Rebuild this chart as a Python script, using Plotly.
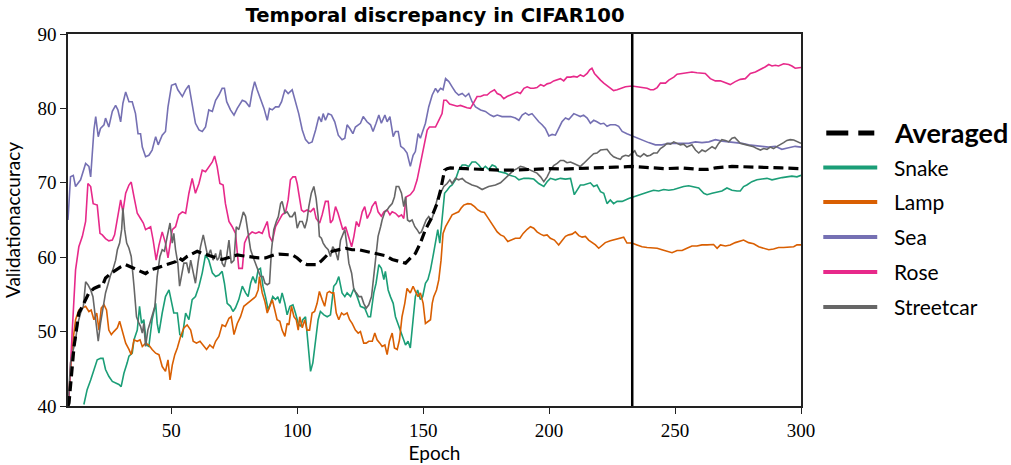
import plotly.graph_objects as go

# ---------------- data (epoch, validation accuracy) ----------------
averaged = [(9.0,40.0),(9.4,40.4),(11.4,48.0),(13.3,52.5),(14.7,53.4),(16.0,54.3),(17.3,55.2),(19.3,55.8),(21.3,56.1),(22.6,56.1),(23.9,57.2),(25.9,57.8),(27.9,58.3),(29.9,58.7),(31.9,59.0),(33.8,58.7),(35.8,58.3),(37.8,58.1),(39.8,57.8),(41.8,58.3),(43.8,58.5),(45.8,58.7),(47.7,59.0),(49.7,59.2),(51.7,59.4),(53.0,59.9),(54.4,59.6),(56.3,60.1),(58.3,60.5),(60.3,60.8),(62.3,60.5),(64.3,60.3),(66.3,60.1),(68.2,59.9),(70.2,59.7),(72.2,59.9),(74.2,60.1),(76.2,60.3),(78.2,60.2),(80.1,60.1),(82.1,60.1),(84.8,59.9),(87.4,59.9),(88.7,60.1),(90.7,60.3),(92.7,60.4),(95.4,60.3),(98.0,60.3),(100.0,59.9),(102.0,59.3),(103.9,59.0),(105.9,59.0),(107.9,59.0),(109.9,59.6),(111.9,60.3),(113.9,60.8),(116.5,61.0),(119.2,61.2),(121.8,61.0),(124.5,61.0),(127.1,60.8),(129.8,60.6),(132.4,60.5),(135.1,60.2),(137.7,59.7),(140.4,59.4),(143.0,59.2),(145.0,59.9),(146.9,60.5),(148.9,61.9),(150.9,63.7),(152.9,65.0),(154.2,66.0),(155.5,67.2),(156.9,69.0),(158.5,71.7),(159.5,71.9),(160.8,72.0),(167.0,71.9),(173.0,71.8),(180.0,71.7),(186.0,71.7),(193.0,71.8),(200.0,71.9),(206.0,71.85),(213.0,71.9),(219.0,72.0),(226.3,72.1),(232.9,72.2),(239.5,72.1),(246.2,71.9),(252.8,72.0),(259.4,71.8),(263.0,71.8),(266.0,72.0),(272.6,72.2),(279.2,72.1),(285.8,72.0),(292.4,72.0),(300.0,71.9)]

snake = [(15.3,40.2),(16.6,42.2),(18.0,43.5),(19.3,44.9),(20.6,46.2),(21.9,46.4),(22.9,46.4),(23.9,44.9),(25.2,44.0),(26.6,43.3),(27.9,43.1),(29.2,42.9),(30.1,42.6),(31.2,44.4),(32.5,45.8),(33.2,46.7),(34.5,47.1),(35.2,48.9),(36.5,50.2),(37.4,53.4),(38.2,51.1),(39.1,51.6),(40.2,48.2),(41.1,48.0),(42.4,51.6),(43.8,53.8),(44.4,51.1),(45.1,49.8),(46.4,52.5),(47.7,54.7),(49.1,55.6),(50.1,53.8),(51.0,52.5),(52.4,52.5),(53.4,49.6),(54.4,49.35),(55.7,52.5),(57.0,51.6),(58.3,54.3),(59.6,54.7),(61.0,56.1),(62.3,57.9),(63.6,60.3),(64.9,59.6),(66.3,57.9),(67.6,57.4),(68.9,57.6),(70.2,58.1),(71.1,56.5),(72.2,53.8),(73.5,53.4),(74.5,52.7),(75.5,53.2),(76.8,54.3),(78.2,56.1),(79.5,55.2),(80.5,54.7),(81.5,56.5),(82.4,57.4),(83.5,56.5),(84.5,58.3),(85.4,58.5),(86.4,56.1),(87.4,54.7),(88.5,52.9),(89.4,53.8),(90.3,54.7),(91.4,54.3),(92.3,54.7),(93.1,53.8),(94.0,55.2),(95.1,53.8),(96.0,52.25),(97.1,53.4),(98.3,53.6),(99.3,52.5),(100.4,51.1),(101.3,50.7),(102.2,51.6),(103.3,52.0),(104.4,47.6),(105.3,44.65),(106.2,45.8),(107.3,48.9),(108.3,51.6),(109.2,52.7),(110.6,52.25),(111.9,52.0),(113.2,52.25),(114.5,56.1),(115.5,56.5),(116.5,57.4),(117.8,55.2),(118.9,54.7),(119.8,55.2),(121.2,54.7),(122.5,55.8),(123.8,54.7),(125.1,53.4),(126.8,53.15),(128.2,52.0),(129.1,52.0),(130.4,55.2),(131.3,56.5),(132.4,59.0),(133.4,58.5),(134.4,57.0),(135.0,58.1),(136.1,55.6),(137.0,54.7),(138.1,53.8),(139.0,52.0),(139.9,51.1),(141.0,50.2),(141.9,49.35),(143.0,48.2),(144.0,48.7),(144.9,47.8),(146.0,51.6),(146.9,54.7),(147.8,55.6),(148.9,54.3),(149.8,54.7),(150.9,56.5),(151.9,57.0),(152.9,58.3),(153.9,60.1),(154.9,61.9),(155.8,63.7),(156.6,61.9),(157.5,65.45),(158.5,68.6),(159.5,69.0),(160.6,69.5),(161.5,69.7),(162.8,70.4),(164.1,71.7),(165.5,72.4),(166.8,72.4),(168.1,72.2),(169.4,72.8),(170.8,72.8),(172.1,72.4),(173.4,71.8),(174.7,72.2),(176.0,71.8),(177.4,72.4),(178.7,72.2),(180.0,71.5),(181.3,71.4),(182.7,71.3),(184.0,71.05),(185.3,70.9),(186.6,70.8),(188.0,70.4),(190.0,70.6),(191.9,70.6),(193.9,70.5),(195.9,69.9),(197.9,69.5),(199.2,70.15),(200.5,70.6),(202.5,70.4),(204.5,70.6),(206.5,70.5),(208.5,70.6),(210.0,68.4),(211.1,69.0),(212.4,69.7),(213.7,69.7),(215.1,69.9),(216.4,70.0),(217.7,69.5),(219.0,69.7),(220.4,68.8),(221.7,68.6),(223.0,67.2),(224.3,67.7),(225.6,67.2),(227.0,67.5),(228.3,67.5),(229.0,67.5),(231.6,67.9),(233.6,68.1),(235.6,68.4),(237.6,68.6),(239.6,68.8),(241.5,69.0),(243.5,68.9),(245.5,69.1),(247.5,69.0),(249.5,69.1),(251.4,69.3),(253.4,69.5),(255.4,69.6),(257.4,69.4),(259.4,69.3),(261.4,68.6),(262.7,68.4),(264.7,68.6),(266.7,68.8),(268.6,68.9),(270.6,69.3),(272.6,69.0),(274.6,68.9),(275.9,68.9),(277.2,69.5),(278.5,69.7),(280.5,70.15),(282.5,70.4),(284.5,70.5),(286.5,70.6),(288.5,70.4),(290.5,70.6),(292.5,70.7),(294.4,70.8),(296.4,70.9),(298.4,70.8),(300.0,71.0)]

lamp = [(9.0,40.0),(10.7,48.0),(12.0,51.6),(13.3,52.9),(14.7,53.15),(16.0,53.4),(17.3,52.7),(18.2,52.9),(19.3,51.6),(20.4,52.5),(21.3,50.2),(22.2,53.15),(23.3,53.6),(24.3,52.9),(25.2,50.2),(26.2,49.6),(27.2,50.0),(28.6,50.5),(29.5,51.4),(30.5,50.0),(31.9,48.45),(33.2,47.6),(34.1,46.9),(35.2,48.9),(36.5,48.7),(37.6,48.9),(38.5,48.0),(39.8,48.45),(41.1,48.2),(42.4,47.6),(43.8,47.1),(45.1,46.9),(46.4,45.3),(47.7,44.65),(48.7,46.2),(49.5,43.5),(50.4,45.5),(51.4,46.9),(52.4,47.8),(53.7,49.35),(55.0,50.5),(56.3,50.9),(57.7,50.2),(58.7,48.7),(60.0,48.45),(61.4,48.7),(62.7,48.2),(64.0,47.6),(65.3,48.2),(66.6,47.8),(67.6,48.7),(68.9,49.35),(70.2,50.9),(71.5,50.7),(72.9,51.8),(73.8,52.0),(74.9,49.6),(76.2,51.1),(77.5,52.0),(78.8,53.4),(79.5,53.6),(80.8,54.0),(82.1,54.3),(83.5,54.7),(84.5,55.6),(85.0,57.4),(86.1,55.2),(87.2,54.0),(88.1,52.5),(89.0,53.4),(90.1,54.3),(91.1,52.9),(92.0,51.6),(93.1,51.4),(94.0,50.2),(95.1,49.35),(96.0,51.1),(96.7,50.9),(97.7,53.4),(98.7,52.0),(99.6,51.6),(100.4,50.2),(101.0,52.0),(102.0,50.5),(103.0,51.6),(103.9,50.2),(104.9,50.2),(105.9,52.5),(106.9,52.7),(107.9,53.8),(108.8,55.4),(109.9,54.3),(110.9,53.4),(111.9,55.2),(112.8,55.4),(113.6,55.2),(114.5,55.2),(115.5,52.5),(116.5,51.6),(117.6,52.5),(118.5,52.25),(119.8,52.5),(120.8,51.6),(121.8,51.1),(123.1,50.2),(124.2,49.8),(125.1,50.0),(126.4,48.45),(127.4,48.45),(128.4,48.7),(129.8,48.7),(130.8,49.8),(131.7,48.9),(132.8,48.45),(133.7,48.0),(134.8,48.2),(135.7,46.9),(136.6,48.7),(137.7,49.8),(138.6,47.8),(139.7,47.6),(140.6,48.9),(141.6,52.0),(142.7,53.8),(143.6,55.8),(144.9,55.2),(146.0,56.1),(146.9,55.4),(148.0,54.7),(148.9,55.2),(150.0,53.8),(150.9,51.1),(152.0,51.4),(152.9,51.6),(153.6,53.8),(154.2,54.7),(155.3,55.6),(156.2,56.95),(157.1,59.6),(157.9,63.2),(158.9,64.1),(160.2,65.0),(161.5,65.7),(162.8,65.9),(164.1,66.1),(165.1,66.6),(166.1,67.0),(167.7,67.2),(169.0,67.15),(170.4,66.8),(171.7,66.35),(173.0,66.1),(174.3,66.0),(175.4,65.45),(176.7,64.8),(178.0,64.1),(179.4,63.4),(180.7,63.0),(182.0,62.8),(183.6,62.1),(185.3,62.4),(186.6,62.55),(188.4,62.55),(189.7,63.2),(191.3,63.75),(192.6,64.1),(193.9,63.9),(195.2,63.4),(196.6,63.1),(197.9,62.9),(199.2,63.0),(200.5,62.55),(202.1,62.3),(203.8,61.65),(205.1,62.2),(206.5,62.8),(207.8,63.0),(209.1,63.1),(210.4,63.4),(211.8,62.9),(213.1,62.7),(214.4,62.8),(215.7,62.3),(217.1,62.0),(218.4,61.65),(219.7,61.2),(221.0,61.65),(222.3,61.96),(224.3,62.2),(225.6,62.3),(227.0,62.4),(228.3,62.55),(229.6,62.7),(230.9,61.9),(232.9,61.9),(234.9,61.65),(236.9,61.4),(238.9,61.3),(240.9,61.2),(242.9,61.2),(244.8,61.0),(246.8,60.8),(248.8,60.6),(250.8,60.9),(252.8,60.9),(254.7,61.2),(256.7,61.5),(258.7,61.5),(260.7,61.65),(262.7,61.65),(265.3,61.7),(266.7,61.2),(268.0,61.65),(270.0,61.5),(271.9,61.65),(273.9,61.96),(275.9,62.2),(277.2,62.3),(279.2,61.96),(281.2,61.8),(283.2,61.4),(285.2,61.2),(287.2,61.0),(289.1,61.1),(291.1,61.3),(293.1,61.3),(295.1,61.3),(297.1,61.4),(298.4,61.65),(300.0,61.65)]

sea = [(9.0,65.0),(10.0,70.8),(11.1,71.0),(12.0,69.5),(14.0,70.4),(16.0,72.6),(17.3,72.2),(18.0,70.8),(19.3,77.1),(20.0,78.9),(21.0,76.2),(21.9,77.3),(23.3,77.8),(23.9,78.7),(25.2,77.5),(26.6,79.6),(27.9,80.4),(28.8,79.8),(29.9,78.2),(30.8,80.7),(31.9,82.2),(33.2,80.9),(34.5,80.9),(35.8,79.3),(36.8,76.6),(37.8,76.6),(38.5,74.8),(39.8,73.5),(41.1,73.7),(42.4,74.4),(43.8,76.2),(44.8,75.1),(46.4,76.4),(47.7,76.9),(48.7,80.2),(50.1,83.1),(51.7,83.3),(52.6,82.5),(54.4,81.6),(55.7,82.5),(57.0,83.1),(58.3,80.7),(59.6,78.0),(61.0,77.1),(62.3,76.9),(63.6,77.5),(64.9,79.8),(66.3,79.6),(67.6,81.1),(68.9,81.8),(70.2,82.7),(71.1,82.7),(72.0,80.9),(73.5,79.8),(74.9,79.1),(76.2,80.0),(78.2,81.1),(79.5,80.9),(81.1,80.2),(82.1,82.2),(83.1,83.6),(84.1,82.5),(85.4,81.3),(86.8,80.0),(88.1,78.4),(89.0,80.0),(90.1,79.8),(91.4,80.2),(92.7,80.2),(93.8,80.9),(95.1,82.5),(96.4,82.0),(98.0,82.5),(99.3,80.9),(100.6,79.3),(102.0,77.1),(103.3,75.8),(104.6,75.3),(105.9,75.5),(107.3,77.1),(108.6,78.9),(109.6,78.2),(110.3,79.3),(111.2,78.4),(112.3,79.3),(113.6,79.1),(114.9,78.2),(116.3,76.4),(117.8,75.8),(118.9,76.0),(119.8,77.8),(120.9,77.3),(122.1,76.6),(123.1,77.5),(125.1,78.0),(126.2,78.9),(127.7,78.2),(129.1,77.8),(130.1,76.9),(131.3,78.0),(132.4,79.1),(133.4,78.0),(134.8,79.1),(135.7,78.2),(136.8,78.9),(138.1,76.2),(139.0,76.9),(140.1,76.9),(141.1,74.9),(142.3,74.6),(143.6,74.0),(144.9,72.2),(146.0,73.7),(146.9,74.2),(148.0,76.6),(148.9,76.0),(150.0,77.1),(150.9,78.0),(152.2,80.2),(153.6,81.8),(154.9,82.7),(155.8,82.2),(156.9,82.7),(157.9,82.5),(158.9,84.0),(160.2,83.6),(161.5,82.9),(162.8,82.2),(164.1,81.8),(165.5,82.0),(166.8,81.6),(168.1,82.0),(169.4,80.9),(170.8,80.2),(172.8,79.8),(174.7,79.6),(176.7,79.1),(178.0,78.9),(179.4,79.1),(181.3,78.9),(184.7,78.9),(186.6,78.7),(188.0,78.4),(189.3,79.1),(190.6,79.4),(191.9,79.1),(193.2,79.3),(194.6,78.7),(195.9,78.2),(197.2,77.8),(198.5,77.3),(199.9,76.3),(201.2,76.5),(202.5,76.4),(203.8,77.3),(205.1,78.2),(206.5,78.7),(207.8,78.5),(209.8,79.3),(211.1,79.1),(212.4,78.9),(213.7,79.1),(215.1,78.7),(216.4,78.0),(217.7,78.4),(219.0,78.2),(220.4,77.9),(221.7,78.0),(223.0,77.6),(224.3,77.8),(226.3,77.8),(227.6,77.6),(229.0,76.9),(230.9,76.6),(232.9,76.3),(234.9,76.0),(236.9,75.7),(239.5,75.4),(242.2,75.1),(244.8,75.1),(247.5,75.3),(250.1,75.3),(252.8,75.3),(255.4,75.3),(258.1,75.5),(260.7,75.4),(263.4,75.5),(266.0,75.8),(268.7,75.6),(271.3,75.5),(273.9,75.5),(276.6,75.3),(279.2,75.1),(281.9,75.0),(284.5,74.9),(287.1,74.8),(289.8,74.9),(292.4,74.5),(295.1,74.7),(297.7,74.9),(300.0,74.8)]

rose = [(9.0,40.0),(9.4,41.3),(10.7,50.2),(12.0,58.3),(13.3,61.4),(14.7,62.8),(16.0,64.8),(16.9,69.9),(18.0,69.5),(19.0,67.2),(20.6,67.0),(21.7,63.2),(22.6,63.0),(23.9,62.5),(25.2,62.2),(26.6,62.3),(27.5,63.0),(28.6,65.0),(29.9,67.7),(30.8,66.1),(31.9,68.6),(33.2,69.7),(34.1,70.1),(35.2,68.1),(36.5,65.9),(37.8,65.2),(38.9,64.6),(39.8,63.7),(40.7,63.9),(41.8,64.1),(42.8,62.3),(44.0,59.6),(45.1,61.6),(46.4,63.4),(47.7,61.9),(48.7,59.9),(50.4,63.7),(51.7,64.1),(53.0,65.7),(54.4,66.1),(55.7,65.9),(57.0,68.6),(58.3,70.6),(59.6,68.6),(61.0,69.9),(62.3,71.7),(63.6,71.5),(64.9,72.2),(66.3,72.8),(67.2,73.6),(68.2,72.2),(69.3,69.9),(70.6,69.7),(71.5,67.2),(72.9,64.8),(74.2,64.1),(75.5,63.2),(76.8,58.5),(78.2,58.5),(79.1,61.9),(80.1,62.7),(80.8,63.0),(82.1,63.4),(83.5,63.2),(84.8,63.4),(86.1,63.2),(87.4,64.1),(88.1,64.8),(89.0,62.8),(90.1,62.1),(91.4,64.1),(92.7,65.0),(94.0,65.7),(95.4,66.1),(96.4,67.7),(97.3,70.4),(98.3,70.8),(99.3,70.8),(100.0,69.9),(100.6,68.6),(101.7,66.35),(102.6,66.1),(103.9,66.35),(105.3,66.1),(106.6,66.6),(107.5,65.2),(108.9,64.6),(109.9,65.7),(111.2,67.5),(112.3,67.5),(113.2,64.6),(114.1,65.0),(115.2,66.8),(116.2,65.9),(117.2,64.8),(118.1,63.7),(119.2,64.1),(120.5,62.8),(121.6,61.4),(122.5,62.8),(123.5,64.8),(124.5,64.1),(125.8,66.1),(126.8,66.8),(127.8,65.2),(129.1,66.1),(129.7,66.8),(131.1,67.5),(132.1,66.1),(133.4,65.5),(134.4,66.1),(135.7,66.35),(136.8,65.7),(137.7,66.1),(139.0,65.9),(140.3,65.45),(141.4,65.7),(142.3,65.2),(143.2,68.1),(144.9,68.4),(146.3,69.0),(147.6,70.4),(148.9,72.6),(150.3,74.85),(151.6,77.1),(152.5,77.5),(153.6,77.5),(154.9,77.5),(156.2,78.4),(157.5,79.3),(158.2,81.1),(159.2,81.1),(160.5,80.6),(162.2,80.4),(163.5,80.3),(164.8,80.4),(166.1,80.2),(167.4,80.1),(168.8,80.0),(170.1,80.9),(171.4,81.6),(172.8,81.6),(174.1,81.8),(175.4,81.8),(176.7,82.2),(178.3,82.5),(179.4,82.0),(180.7,81.8),(182.0,81.3),(183.3,81.6),(184.7,81.8),(186.0,82.0),(187.3,82.2),(188.6,82.0),(190.0,82.7),(191.3,82.9),(192.6,82.7),(193.9,82.7),(195.2,82.8),(196.6,83.2),(197.9,83.0),(199.2,83.3),(200.5,83.4),(201.8,83.7),(203.2,83.9),(204.5,84.0),(205.8,83.7),(207.1,84.2),(208.5,84.2),(209.8,84.3),(211.1,84.2),(212.4,84.5),(213.7,84.3),(215.1,84.7),(216.1,85.2),(217.0,85.4),(218.0,84.7),(219.0,84.3),(220.4,83.8),(221.7,83.4),(223.0,83.1),(224.3,82.7),(225.6,82.4),(227.0,82.5),(228.3,82.7),(230.3,82.9),(232.9,83.0),(234.9,82.9),(236.9,82.8),(238.9,82.7),(240.2,82.5),(241.5,82.5),(242.9,82.8),(244.2,83.4),(246.2,83.4),(247.5,83.8),(249.5,84.2),(250.8,84.6),(252.8,84.7),(254.7,84.8),(256.7,84.9),(258.7,84.8),(260.7,84.8),(262.0,84.7),(264.0,84.0),(266.0,83.7),(268.0,83.7),(270.0,83.4),(271.9,83.2),(273.9,83.6),(275.9,83.9),(277.9,84.0),(279.9,84.7),(281.9,84.9),(283.9,85.2),(285.9,85.6),(287.2,85.9),(288.5,85.7),(289.8,85.8),(291.1,85.7),(293.1,86.0),(295.1,85.9),(296.4,85.7),(297.7,85.4),(300.0,85.5)]

streetcar = [(9.0,40.0),(10.0,45.8),(11.1,47.6),(12.0,48.9),(12.9,51.1),(14.0,52.5),(15.1,53.4),(16.0,56.7),(16.9,56.3),(18.0,55.6),(18.9,54.7),(19.7,52.5),(20.6,50.2),(21.0,48.7),(21.9,51.1),(22.9,53.4),(23.9,55.2),(25.0,56.5),(25.9,57.6),(26.8,58.3),(27.9,59.6),(28.6,61.0),(29.5,61.9),(30.3,63.7),(30.8,66.6),(31.5,63.7),(32.3,61.9),(33.2,61.2),(34.1,60.1),(35.2,56.1),(36.2,52.0),(37.2,51.1),(37.8,50.7),(38.5,49.8),(39.1,51.1),(39.8,48.0),(40.7,50.2),(41.5,51.1),(42.4,52.0),(43.5,53.4),(44.4,57.4),(45.5,60.1),(46.4,61.0),(47.3,60.8),(48.4,62.8),(49.5,64.6),(50.4,61.9),(51.0,63.2),(51.7,61.0),(52.6,59.2),(53.3,56.1),(54.4,58.3),(55.0,59.2),(56.1,59.2),(57.0,57.85),(57.7,59.6),(58.6,58.3),(59.6,56.5),(60.6,59.2),(61.6,61.4),(62.7,63.0),(63.6,61.4),(64.5,60.1),(65.6,61.0),(66.6,59.6),(67.6,60.5),(68.2,59.6),(68.9,59.9),(69.6,61.0),(70.2,59.2),(71.1,58.7),(72.0,60.1),(72.9,62.3),(73.8,59.2),(74.9,59.6),(75.8,64.1),(76.8,63.7),(77.8,65.0),(78.6,66.1),(79.5,65.5),(80.5,63.5),(81.5,61.0),(82.4,60.1),(83.5,59.2),(84.5,58.3),(85.4,57.4),(86.4,57.4),(87.2,56.5),(88.1,56.3),(89.0,56.5),(89.8,61.0),(90.7,63.7),(91.7,64.8),(92.5,65.45),(93.4,67.2),(94.0,67.5),(95.1,65.9),(96.0,66.1),(97.1,65.45),(98.0,65.45),(99.1,66.1),(100.0,63.9),(101.0,64.8),(102.0,64.8),(103.0,63.9),(103.9,65.0),(104.6,66.8),(105.6,68.6),(106.6,69.5),(107.5,67.9),(108.3,65.45),(108.8,62.8),(109.6,62.55),(110.3,61.9),(111.2,61.4),(112.3,61.0),(113.2,60.1),(114.1,61.4),(115.2,60.8),(116.2,59.6),(117.2,62.3),(118.1,63.0),(118.9,63.7),(119.6,61.9),(120.5,59.2),(121.6,57.85),(122.5,55.6),(123.5,55.2),(124.5,54.7),(125.5,54.7),(126.4,53.8),(127.4,53.15),(128.4,53.6),(129.5,54.7),(130.4,57.4),(131.3,61.0),(132.1,62.8),(133.1,64.1),(133.7,65.0),(134.8,66.1),(135.7,66.35),(136.6,66.8),(137.7,67.2),(138.6,68.1),(139.3,69.5),(140.3,69.5),(141.4,68.6),(142.3,66.8),(143.0,68.1),(143.8,65.0),(144.6,64.8),(145.6,65.0),(146.7,64.1),(147.6,63.7),(148.5,63.2),(149.3,63.4),(150.2,64.1),(151.2,65.0),(152.2,65.45),(153.3,65.0),(154.2,65.9),(154.9,66.8),(155.5,67.7),(156.9,68.6),(158.2,69.5),(159.5,69.9),(160.6,70.4),(161.5,69.9),(162.8,70.6),(164.1,70.4),(165.5,70.6),(166.8,70.15),(168.1,69.9),(169.4,69.7),(171.4,69.5),(173.4,69.1),(174.7,69.3),(176.0,69.5),(177.4,69.6),(178.7,69.7),(180.7,70.0),(182.0,70.4),(183.3,70.8),(184.7,71.3),(186.0,71.7),(187.3,71.9),(188.6,72.2),(190.0,72.1),(191.3,71.9),(192.6,71.7),(193.9,71.5),(195.2,71.3),(196.6,70.8),(197.9,70.15),(199.2,70.8),(200.5,71.7),(201.8,72.3),(203.2,72.6),(204.5,73.0),(205.8,73.0),(207.1,72.7),(208.5,72.8),(209.8,72.6),(211.1,72.4),(212.4,72.2),(213.7,72.6),(215.1,73.0),(216.4,73.5),(217.7,73.9),(219.0,74.0),(220.4,74.4),(221.7,74.4),(223.0,74.5),(224.3,73.9),(225.6,73.5),(227.0,73.3),(228.3,73.15),(229.0,73.5),(230.3,73.7),(231.6,73.6),(232.9,74.0),(234.0,74.3),(234.9,73.7),(236.2,73.5),(237.6,73.9),(238.9,73.6),(240.2,73.7),(241.5,74.0),(242.9,74.0),(244.2,74.6),(245.5,74.9),(246.8,75.3),(248.2,75.2),(249.5,75.5),(250.8,75.3),(252.1,75.1),(253.4,75.2),(254.7,74.8),(256.7,75.1),(258.1,74.4),(259.4,74.0),(260.7,74.4),(262.0,74.2),(263.4,74.6),(264.7,74.85),(266.0,74.6),(267.3,75.3),(268.6,75.8),(270.0,75.7),(271.3,75.5),(272.6,76.0),(273.7,76.1),(274.6,75.75),(275.9,75.3),(277.2,75.2),(278.5,75.1),(279.9,74.9),(281.2,74.85),(282.5,74.6),(283.9,74.4),(285.2,74.6),(286.5,74.5),(287.8,74.8),(289.1,74.6),(290.5,74.9),(291.8,75.1),(293.1,75.4),(294.4,75.7),(295.7,75.8),(297.1,75.75),(298.4,75.5),(300.0,75.3)]

series_names = ["Snake", "Lamp", "Sea", "Rose", "Streetcar"]
series_data = [snake, lamp, sea, rose, streetcar]
series_colors = ["#1b9e77", "#d95f02", "#7570b3", "#e7298a", "#666666"]
marker_epoch = 233
x_ticks = [50, 100, 150, 200, 250, 300]
y_ticks = [40, 50, 60, 70, 80, 90]
x_range = [9, 300]
y_range = [40, 90]

SANS = "Lato, 'DejaVu Sans', sans-serif"
SANS_BOLD_TITLE = "'DejaVu Sans', sans-serif"
SERIF = "'Liberation Serif', 'DejaVu Serif', serif"

fig = go.Figure()
for name, data, color in zip(series_names, series_data, series_colors):
    fig.add_trace(go.Scatter(
        x=[p[0] for p in data], y=[p[1] for p in data], name=name,
        mode="lines", line=dict(color=color, width=1.6), showlegend=False))

fig.add_trace(go.Scatter(
    x=[p[0] for p in averaged], y=[p[1] for p in averaged], name="Averaged",
    mode="lines", line=dict(color="black", width=3.2, dash="10px,5px"),
    showlegend=False))

fig.add_shape(type="line", xref="x", yref="paper", x0=marker_epoch, x1=marker_epoch,
              y0=0, y1=1, line=dict(color="black", width=2.5))

# legend (drawn manually to reproduce its layout)
leg_tx = 1.1245
leg_items = [("Averaged", "black", 0.734)] + [
    (n, c, y) for n, c, y in zip(series_names, series_colors,
                                 [0.641, 0.5485, 0.4544, 0.3603, 0.2662])]
for name, color, yy in leg_items:
    is_avg = name == "Averaged"
    fig.add_shape(type="line", xref="paper", yref="paper",
                  x0=1.0345 if is_avg else 1.0304, x1=1.100 if is_avg else 1.104,
                  y0=yy, y1=yy,
                  line=dict(color=color, width=5 if is_avg else 4,
                            dash="22px,10px" if is_avg else "solid"))
    fig.add_annotation(x=leg_tx, y=yy, xref="paper", yref="paper", text=name,
                       showarrow=False, xanchor="left", yanchor="middle",
                       font=dict(family=SANS, size=27 if is_avg else 21,
                                 color="black",
                                 weight="bold" if is_avg else "normal"))

axis_common = dict(showgrid=False, zeroline=False, showline=True, linecolor="#222",
                   linewidth=1.5, mirror=True, ticks="outside", ticklen=6,
                   tickwidth=1.3, tickcolor="#222", automargin=False,
                   tickfont=dict(family=SERIF, size=19, color="black"))

fig.update_layout(
    width=1011, height=465,
    margin=dict(l=67.5, r=210.3, t=33.8, b=59.3),
    paper_bgcolor="white", plot_bgcolor="white",
    title=dict(text="Temporal discrepancy in CIFAR100", x=0.4303, xanchor="center",
               y=0.968, yanchor="middle",
               font=dict(family=SANS_BOLD_TITLE, size=19.6, color="black",
                         weight="bold")),
    xaxis=dict(range=x_range, tickvals=x_ticks, title=dict(text="Epoch", standoff=6,
               font=dict(family=SANS, size=19, color="black")), **axis_common),
    yaxis=dict(range=y_range, tickvals=y_ticks, title=dict(text="Validationaccuracy",
               standoff=12, font=dict(family=SANS, size=19, color="black")),
               **axis_common),
)

fig.write_html("out.html")
